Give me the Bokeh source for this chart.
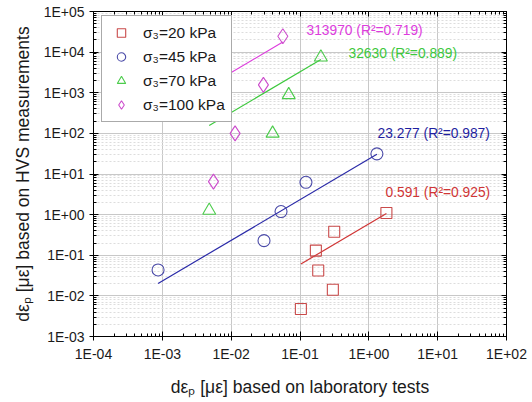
import numpy as np
from bokeh.plotting import figure
from bokeh.models import (LogAxis, CustomJSTickFormatter, Legend, LegendItem, Label,
                          LogTicker, Range1d)
from bokeh.embed import file_html
from bokeh.resources import INLINE

# ---- data ----
x20 = [1.8, 0.314, 0.17, 0.184, 0.30, 0.103]
y20 = [1.1, 0.38, 0.13, 0.042, 0.0142, 0.00475]
x45 = [0.000867, 0.030, 0.053, 0.122, 1.31]
y45 = [0.0434, 0.229, 1.19, 6.25, 31.3]
x70 = [0.0048, 0.040, 0.0686, 0.201]
y70 = [1.26, 100, 887, 7500]
x100 = [0.00553, 0.0114, 0.0294, 0.0563]
y100 = [6.5, 100, 1565, 24650]
slopes = [0.591, 23.277, 32630, 313970]
r2 = [0.925, 0.987, 0.889, 0.719]
labels = ["σ₃=20 kPa", "σ₃=45 kPa", "σ₃=70 kPa", "σ₃=100 kPa"]
slope_text = ["0.591", "23.277", "32630", "313970"]

marker_colors = ["#c94a4a", "#4a4aa8", "#4ccc4c", "#cc4ccc"]
line_colors = ["#d03535", "#2a2aa8", "#3cc83c", "#dd3cdd"]
text_colors = ["#d03535", "#1f1fa0", "#3cc83c", "#dd3cdd"]

FONT = "Liberation Sans"

p = figure(width=532, height=402, x_axis_type="log", y_axis_type="log",
           x_range=Range1d(1e-4, 1e2), y_range=Range1d(1e-3, 1e5),
           output_backend="svg", toolbar_location=None,
           min_border_left=93, min_border_right=26, min_border_top=11,
           min_border_bottom=66)
p.outline_line_color = "black"
p.outline_line_width = 1

fmt = CustomJSTickFormatter(code="""
const e = Math.round(Math.log10(tick));
const s = e < 0 ? '-' : '+';
const a = Math.abs(e);
return '1E' + s + (a < 10 ? '0' : '') + a;
""")

for ax in [p.xaxis[0], p.yaxis[0]]:
    ax.formatter = fmt
    ax.ticker = LogTicker(num_minor_ticks=10, mantissas=[1])
    ax.major_label_text_font = FONT
    ax.major_label_text_font_size = "14px"
    ax.major_label_text_color = "#1a1a1a"
    ax.axis_label_text_font = FONT
    ax.axis_label_text_font_size = "17.5px"
    ax.axis_label_text_font_style = "normal"
    ax.axis_label_text_color = "#1a1a1a"
    ax.major_tick_in = 5
    ax.major_tick_out = 4
    ax.minor_tick_in = 3
    ax.minor_tick_out = 0
    ax.axis_line_color = "black"

p.xaxis[0].axis_label = "dεₚ [με] based on laboratory tests"
p.yaxis[0].axis_label = "dεₚ [με] based on HVS measurements"
p.xaxis[0].axis_label_standoff = 12
p.yaxis[0].axis_label_standoff = 8

for loc in ["above", "right"]:
    ax = LogAxis()
    ax.ticker = LogTicker(num_minor_ticks=10, mantissas=[1])
    ax.major_label_text_color = None
    ax.major_label_text_font_size = "4px"
    ax.major_label_standoff = 0
    ax.major_tick_in = 5
    ax.major_tick_out = 0
    ax.minor_tick_in = 3
    ax.minor_tick_out = 0
    ax.axis_line_color = "black"
    p.add_layout(ax, loc)

p.grid.grid_line_color = "#c8c8c8"
p.ygrid.minor_grid_line_color = "#dddddd"
p.ygrid.minor_grid_line_dash = "2 2"
p.xgrid.minor_grid_line_color = None
p.ygrid.ticker = LogTicker(num_minor_ticks=10, mantissas=[1])
p.xgrid.ticker = LogTicker(num_minor_ticks=10, mantissas=[1])

series = [(x20, y20), (x45, y45), (x70, y70), (x100, y100)]
markers = ["square", "circle", "triangle", "diamond"]
sizes = [11, 12, 13, 15]

# fit lines y = k x over data range
for (xs, ys), k, lc in zip(series, slopes, line_colors):
    xl = np.array([min(xs), max(xs)])
    p.line(xl, k * xl, line_color=lc, line_width=1.2)

items = []
for (xs, ys), m, s, mc, lab in zip(series, markers, sizes, marker_colors, labels):
    r = p.scatter(xs, ys, marker=m, size=s, fill_color=None, line_color=mc, line_width=1.1)
    items.append(LegendItem(label=lab, renderers=[r]))

legend = Legend(items=items, location=(8, 214), border_line_color="#555555",
                background_fill_color="white", background_fill_alpha=1.0,
                label_text_font=FONT, label_text_font_size="15.5px",
                label_text_color="#1a1a1a", spacing=3, padding=6,
                glyph_width=26, glyph_height=21, label_height=21, label_standoff=9,
                margin=0)
p.add_layout(legend)

ann_pos = [(385, 192), (377, 133), (348, 53), (306, 30)]
for (px, py), st, rr, tc in zip(ann_pos, slope_text, r2, text_colors):
    p.add_layout(Label(x=px - 93, y=336 - py, x_units="screen", y_units="screen",
                       text=f"{st} (R²={rr})", text_color=tc, text_font=FONT,
                       text_font_size="13.8px", text_baseline="middle"))

open("out.html", "w").write(file_html(p, INLINE))
